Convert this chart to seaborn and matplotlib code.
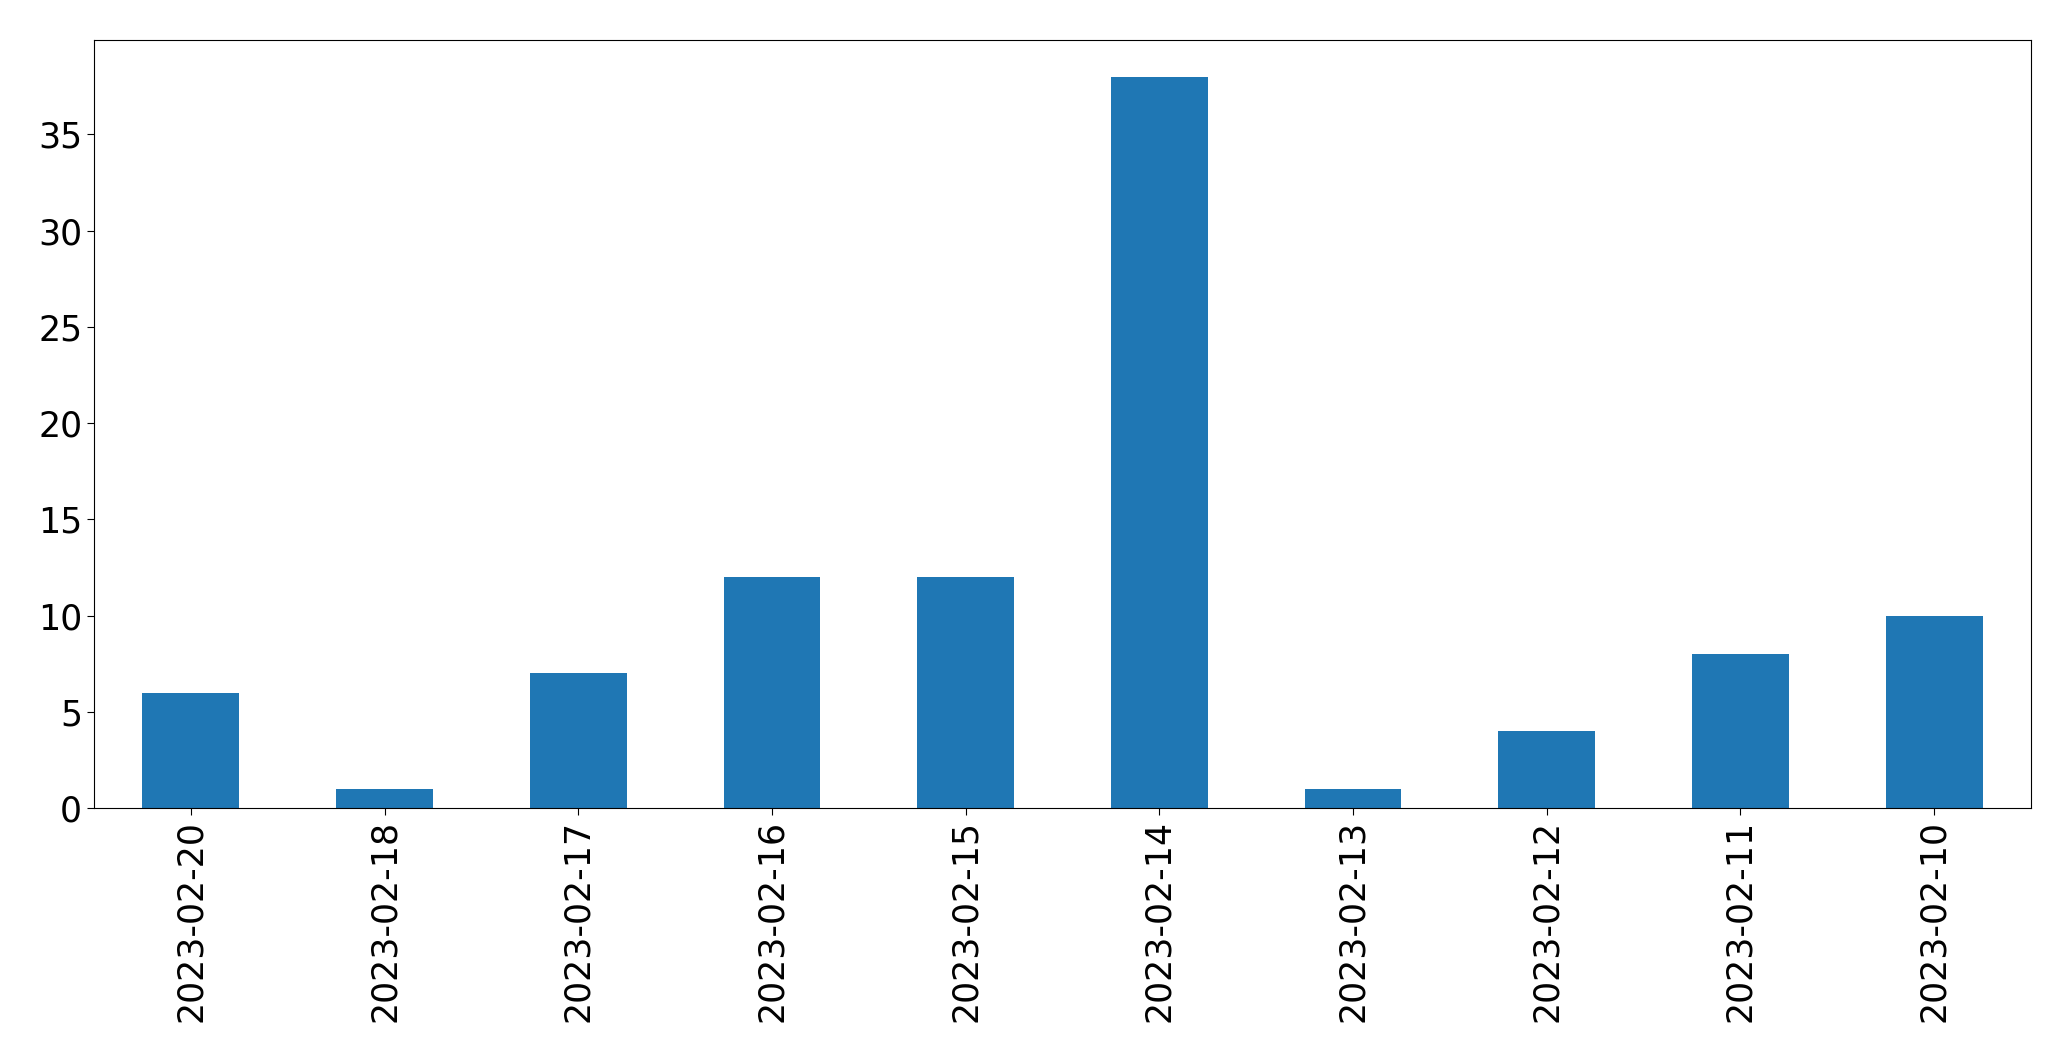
import numpy as np
import pandas as pd
import matplotlib as mpl
mpl.use('Agg')
import matplotlib.pyplot as plt
import seaborn as sns

# counts per day, in the order shown on the x axis
dates = ['2023-02-20', '2023-02-18', '2023-02-17', '2023-02-16', '2023-02-15',
         '2023-02-14', '2023-02-13', '2023-02-12', '2023-02-11', '2023-02-10']
counts = [6, 1, 7, 12, 12, 38, 1, 4, 8, 10]

def main():
    df = pd.DataFrame({'date': dates, 'count': counts})

    fig = plt.figure(figsize=(20.71, 10.61), dpi=100)
    ax = fig.add_axes([94 / 2071, 1 - 808 / 1061, (2031 - 94) / 2071, (808 - 40) / 1061])
    sns.barplot(x='date', y='count', data=df, ax=ax, color='#1f77b4',
                saturation=1, width=0.5, order=dates, linewidth=0)
    ax.set_xlim(-0.5, len(dates) - 0.5)
    ax.set_ylim(0, max(counts) * 1.05)
    ax.set_xlabel('')
    ax.set_ylabel('')
    ax.tick_params(axis='both', labelsize=25, length=5)
    for lbl in ax.get_xticklabels():
        lbl.set_rotation(90)

    fig.savefig('out.png', dpi=100)
    return

if __name__ == "__main__":
    main()
